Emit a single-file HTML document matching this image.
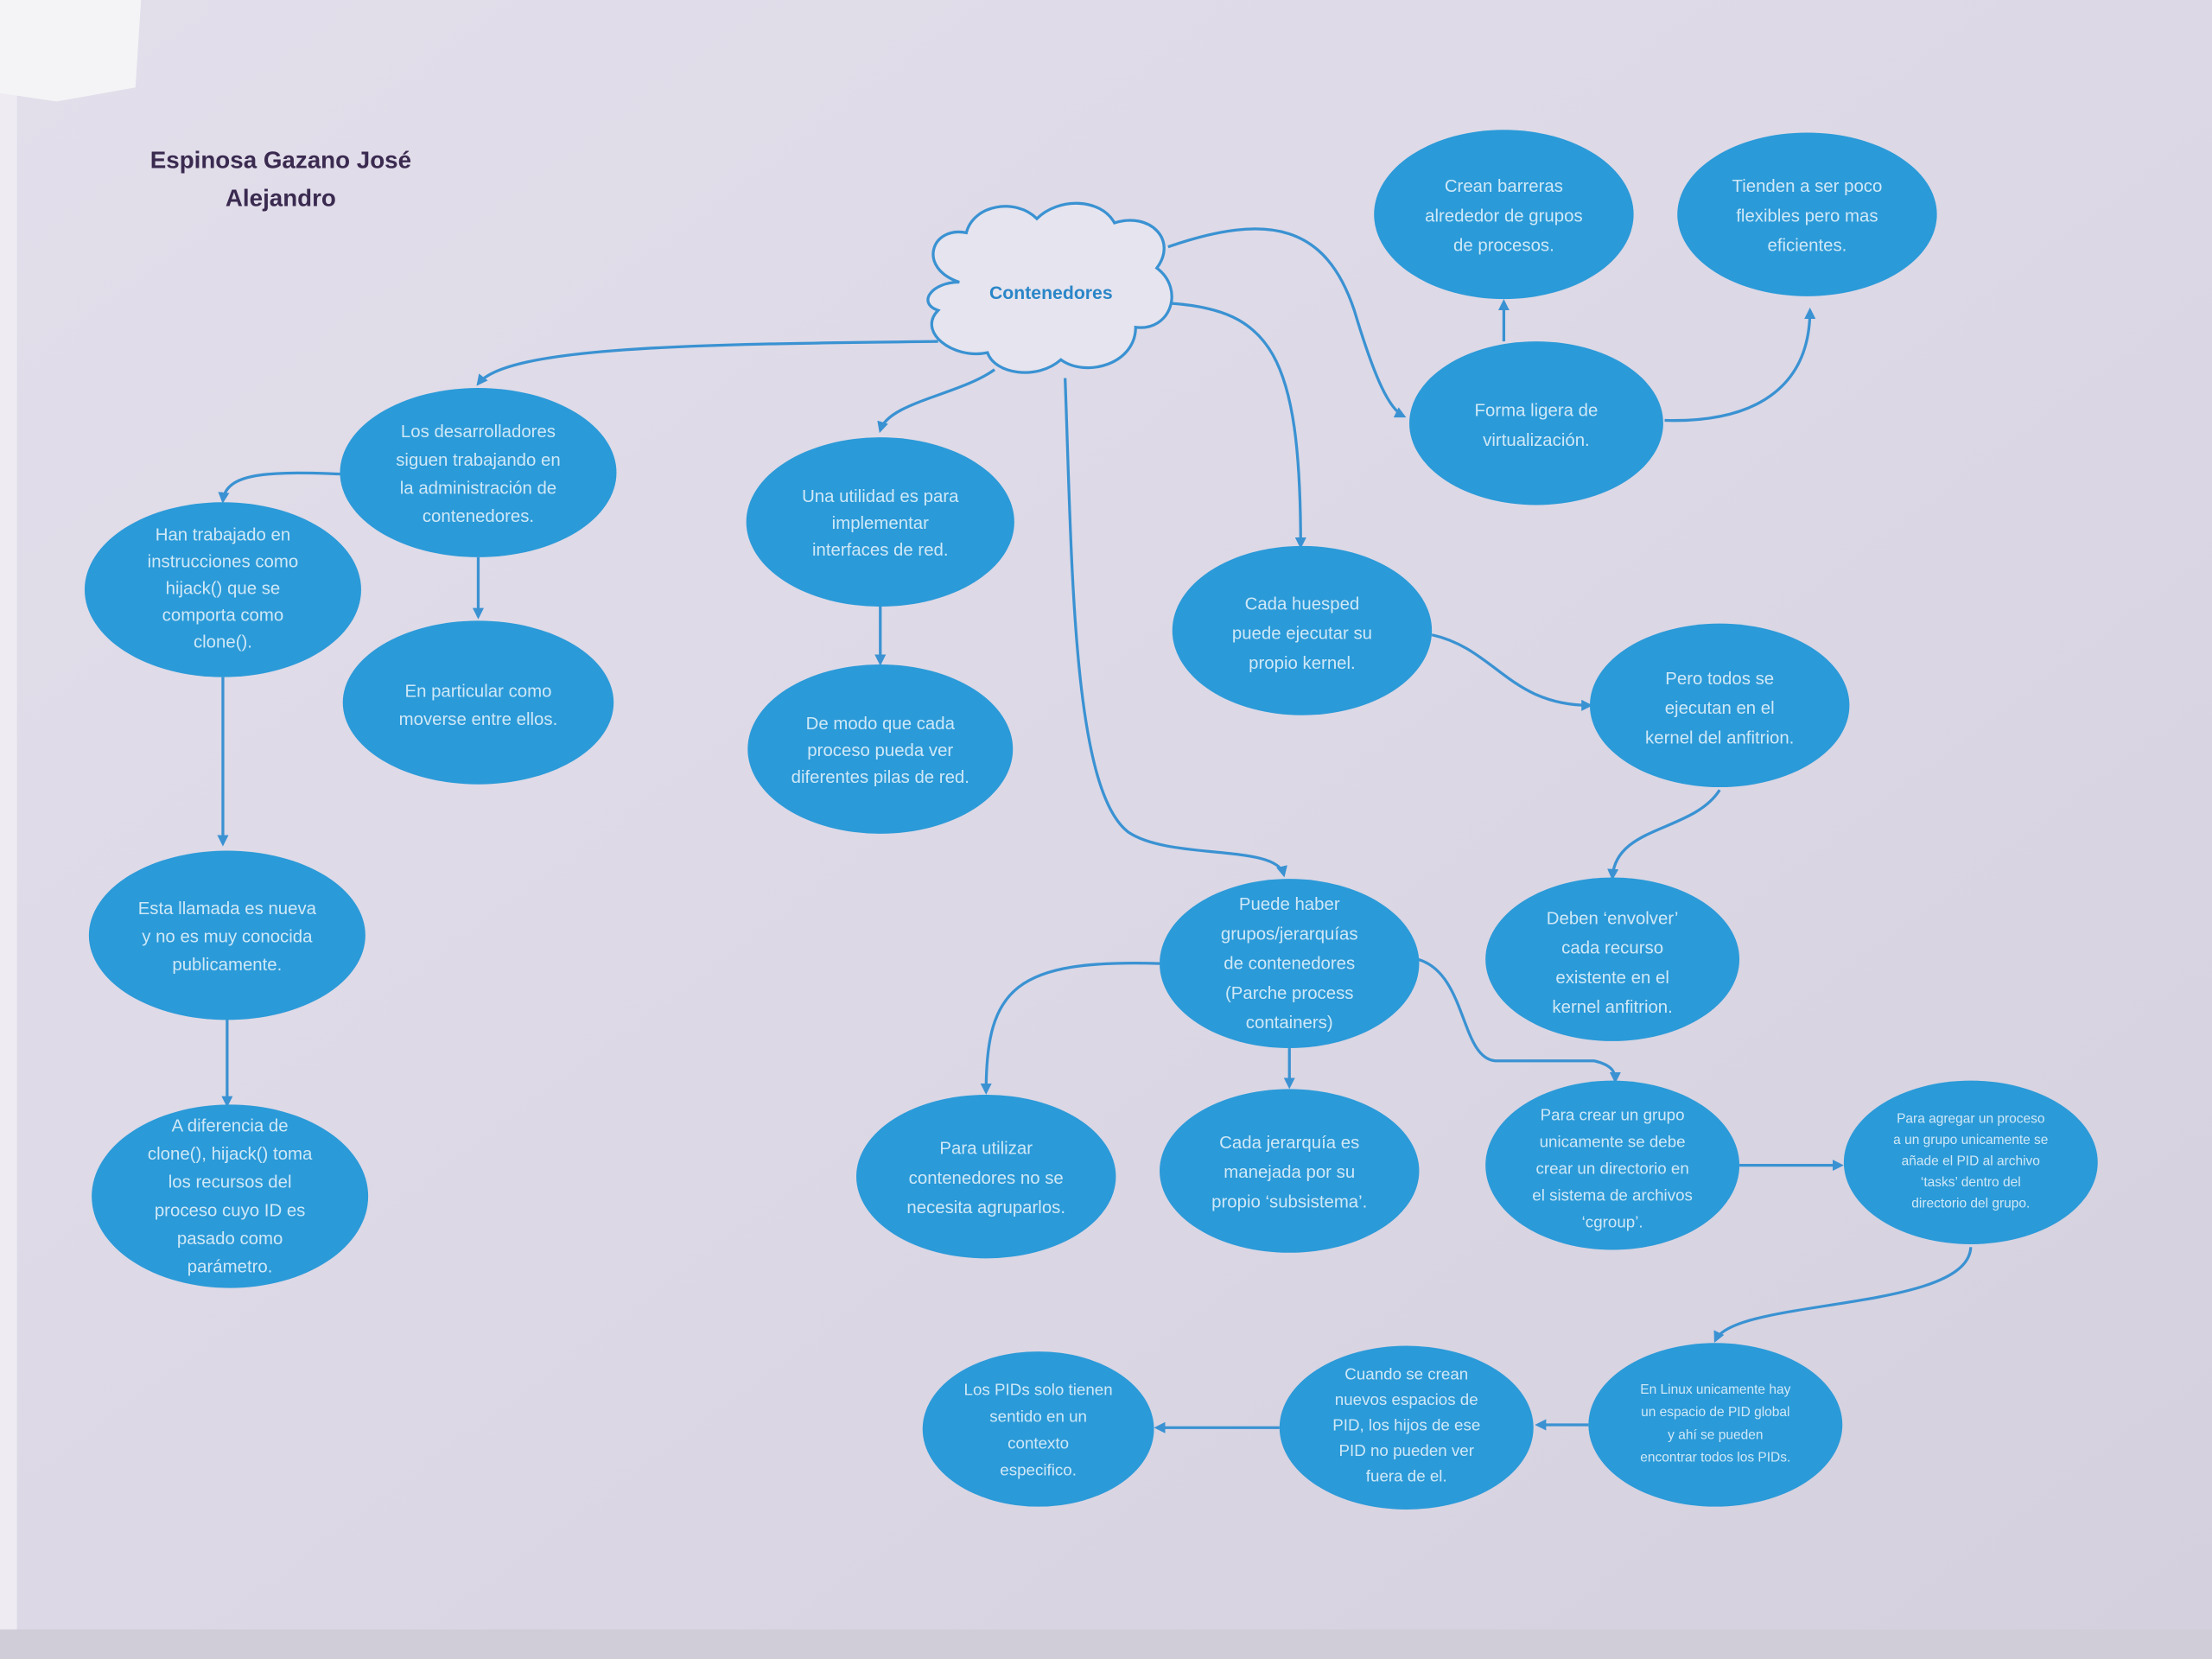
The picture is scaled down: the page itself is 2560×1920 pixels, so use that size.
<!DOCTYPE html>
<html><head><meta charset="utf-8"><style>
html,body{margin:0;padding:0;width:2560px;height:1920px;overflow:hidden;background:#d8d4e2}
svg{display:block}
text{font-family:"Liberation Sans",sans-serif}
.n{fill:#2b9ad8}
.t{fill:#cfe8f7;font-size:12.5px;text-anchor:middle}
.c{fill:none;stroke:#3a92d2;stroke-width:2;marker-end:url(#a)}
</style></head><body>
<svg width="2560" height="1920" viewBox="0 0 1568 1176" preserveAspectRatio="none">
<defs>
<marker id="a" markerWidth="8" markerHeight="8" refX="6" refY="4" orient="auto" markerUnits="userSpaceOnUse"><path d="M0,0 L8,4 L0,8 z" fill="#3a92d2"/></marker>
<linearGradient id="bg" x1="0" y1="0" x2="1" y2="1"><stop offset="0" stop-color="#e2deea"/><stop offset="0.5" stop-color="#dcd8e6"/><stop offset="1" stop-color="#d4d0de"/></linearGradient>
</defs>
<rect width="1568" height="1176" fill="url(#bg)"/>
<rect x="0" y="0" width="12" height="1176" fill="#eeecf2"/>
<rect x="0" y="1155" width="1568" height="21" fill="#d0ccd8"/>
<polygon points="0,0 100,0 96,62 40,72 0,66" fill="#f4f4f6"/>
<text x="199" y="119" font-size="17" fill="#3a2a50" text-anchor="middle" font-weight="600">Espinosa Gazano José</text>
<text x="199" y="146" font-size="17" fill="#3a2a50" text-anchor="middle" font-weight="600">Alejandro</text>

<path class="c" d="M665,242 C500,244 360,245 339,272"/>
<path class="c" d="M705,262 C680,280 630,285 624,305"/>
<path class="c" d="M755,268 C760,400 760,560 800,590 C830,610 905,598 910,620"/>
<path class="c" d="M830,215 C900,220 922,250 922,387"/>
<path class="c" d="M828,175 C900,150 940,160 960,220 C975,270 985,290 995,295"/>
<path class="c" d="M1066,242 L1066,214"/>
<path class="c" d="M1180,298 C1250,300 1283,270 1283,220"/>
<path class="c" d="M241,336 C190,334 160,335 158,355"/>
<path class="c" d="M339,395 L339,437"/>
<path class="c" d="M158,480 L158,598"/>
<path class="c" d="M161,722 L161,783"/>
<path class="c" d="M624,430 L624,470"/>
<path class="c" d="M1015,450 C1060,460 1070,500 1127,500"/>
<path class="c" d="M1219,560 C1200,590 1145,585 1143,622"/>
<path class="c" d="M822,683 C720,680 699,700 699,774"/>
<path class="c" d="M914,743 L914,770"/>
<path class="c" d="M1005,680 C1040,690 1035,750 1060,752 L1130,752 C1143,755 1145,760 1145,766"/>
<path class="c" d="M1233,826 L1305,826"/>
<path class="c" d="M1397,884 C1395,930 1230,920 1216,950"/>
<path class="c" d="M1126,1010 L1090,1010"/>
<path class="c" d="M907,1012 L820,1012"/>

<g fill="#e6e4ee" stroke="#3a92d2" stroke-width="2">
<path d="M680,200 C650,190 660,160 685,165 C690,145 720,140 735,155 C750,140 780,140 790,158 C815,150 835,170 820,190 C840,205 830,235 805,232 C805,258 770,268 752,255 C735,270 705,265 700,250 C675,255 650,235 665,220 C650,215 660,200 680,200 Z"/>
</g>
<text x="745" y="212" font-size="13" fill="#2a86c8" text-anchor="middle" font-weight="bold">Contenedores</text>

<g>
<ellipse class="n" cx="1066" cy="152" rx="92" ry="60"/>
<text class="t" y="136"><tspan x="1066">Crean barreras</tspan><tspan x="1066" dy="21">alrededor de grupos</tspan><tspan x="1066" dy="21">de procesos.</tspan></text>
<ellipse class="n" cx="1281" cy="152" rx="92" ry="58"/>
<text class="t" y="136"><tspan x="1281">Tienden a ser poco</tspan><tspan x="1281" dy="21">flexibles pero mas</tspan><tspan x="1281" dy="21">eficientes.</tspan></text>
<ellipse class="n" cx="1089" cy="300" rx="90" ry="58"/>
<text class="t" y="295"><tspan x="1089">Forma ligera de</tspan><tspan x="1089" dy="21">virtualización.</tspan></text>
<ellipse class="n" cx="339" cy="335" rx="98" ry="60"/>
<text class="t" y="310"><tspan x="339">Los desarrolladores</tspan><tspan x="339" dy="20">siguen trabajando en</tspan><tspan x="339" dy="20">la administración de</tspan><tspan x="339" dy="20">contenedores.</tspan></text>
<ellipse class="n" cx="158" cy="418" rx="98" ry="62"/>
<text class="t" y="383"><tspan x="158">Han trabajado en</tspan><tspan x="158" dy="19">instrucciones como</tspan><tspan x="158" dy="19">hijack() que se</tspan><tspan x="158" dy="19">comporta como</tspan><tspan x="158" dy="19">clone().</tspan></text>
<ellipse class="n" cx="339" cy="498" rx="96" ry="58"/>
<text class="t" y="494"><tspan x="339">En particular como</tspan><tspan x="339" dy="20">moverse entre ellos.</tspan></text>
<ellipse class="n" cx="624" cy="370" rx="95" ry="60"/>
<text class="t" y="356"><tspan x="624">Una utilidad es para</tspan><tspan x="624" dy="19">implementar</tspan><tspan x="624" dy="19">interfaces de red.</tspan></text>
<ellipse class="n" cx="624" cy="531" rx="94" ry="60"/>
<text class="t" y="517"><tspan x="624">De modo que cada</tspan><tspan x="624" dy="19">proceso pueda ver</tspan><tspan x="624" dy="19">diferentes pilas de red.</tspan></text>
<ellipse class="n" cx="923" cy="447" rx="92" ry="60"/>
<text class="t" y="432"><tspan x="923">Cada huesped</tspan><tspan x="923" dy="21">puede ejecutar su</tspan><tspan x="923" dy="21">propio kernel.</tspan></text>
<ellipse class="n" cx="1219" cy="500" rx="92" ry="58"/>
<text class="t" y="485"><tspan x="1219">Pero todos se</tspan><tspan x="1219" dy="21">ejecutan en el</tspan><tspan x="1219" dy="21">kernel del anfitrion.</tspan></text>
<ellipse class="n" cx="1143" cy="680" rx="90" ry="58"/>
<text class="t" y="655"><tspan x="1143">Deben ‘envolver’</tspan><tspan x="1143" dy="21">cada recurso</tspan><tspan x="1143" dy="21">existente en el</tspan><tspan x="1143" dy="21">kernel anfitrion.</tspan></text>
<ellipse class="n" cx="914" cy="683" rx="92" ry="60"/>
<text class="t" y="645"><tspan x="914">Puede haber</tspan><tspan x="914" dy="21">grupos/jerarquías</tspan><tspan x="914" dy="21">de contenedores</tspan><tspan x="914" dy="21">(Parche process</tspan><tspan x="914" dy="21">containers)</tspan></text>
<ellipse class="n" cx="161" cy="663" rx="98" ry="60"/>
<text class="t" y="648"><tspan x="161">Esta llamada es nueva</tspan><tspan x="161" dy="20">y no es muy conocida</tspan><tspan x="161" dy="20">publicamente.</tspan></text>
<ellipse class="n" cx="163" cy="848" rx="98" ry="65"/>
<text class="t" y="802"><tspan x="163">A diferencia de</tspan><tspan x="163" dy="20">clone(), hijack() toma</tspan><tspan x="163" dy="20">los recursos del</tspan><tspan x="163" dy="20">proceso cuyo ID es</tspan><tspan x="163" dy="20">pasado como</tspan><tspan x="163" dy="20">parámetro.</tspan></text>
<ellipse class="n" cx="699" cy="834" rx="92" ry="58"/>
<text class="t" y="818"><tspan x="699">Para utilizar</tspan><tspan x="699" dy="21">contenedores no se</tspan><tspan x="699" dy="21">necesita agruparlos.</tspan></text>
<ellipse class="n" cx="914" cy="830" rx="92" ry="58"/>
<text class="t" y="814"><tspan x="914">Cada jerarquía es</tspan><tspan x="914" dy="21">manejada por su</tspan><tspan x="914" dy="21">propio ‘subsistema’.</tspan></text>
<ellipse class="n" cx="1143" cy="826" rx="90" ry="60"/>
<text class="t" style="font-size:11.5px" y="794"><tspan x="1143">Para crear un grupo</tspan><tspan x="1143" dy="19">unicamente se debe</tspan><tspan x="1143" dy="19">crear un directorio en</tspan><tspan x="1143" dy="19">el sistema de archivos</tspan><tspan x="1143" dy="19">‘cgroup’.</tspan></text>
<ellipse class="n" cx="1397" cy="824" rx="90" ry="58"/>
<text class="t" style="font-size:9.5px" y="796"><tspan x="1397">Para agregar un proceso</tspan><tspan x="1397" dy="15">a un grupo unicamente se</tspan><tspan x="1397" dy="15">añade el PID al archivo</tspan><tspan x="1397" dy="15">‘tasks’ dentro del</tspan><tspan x="1397" dy="15">directorio del grupo.</tspan></text>
<ellipse class="n" cx="1216" cy="1010" rx="90" ry="58"/>
<text class="t" style="font-size:9.5px" y="988"><tspan x="1216">En Linux unicamente hay</tspan><tspan x="1216" dy="16">un espacio de PID global</tspan><tspan x="1216" dy="16">y ahí se pueden</tspan><tspan x="1216" dy="16">encontrar todos los PIDs.</tspan></text>
<ellipse class="n" cx="997" cy="1012" rx="90" ry="58"/>
<text class="t" style="font-size:11.5px" y="978"><tspan x="997">Cuando se crean</tspan><tspan x="997" dy="18">nuevos espacios de</tspan><tspan x="997" dy="18">PID, los hijos de ese</tspan><tspan x="997" dy="18">PID no pueden ver</tspan><tspan x="997" dy="18">fuera de el.</tspan></text>
<ellipse class="n" cx="736" cy="1013" rx="82" ry="55"/>
<text class="t" style="font-size:11.5px" y="989"><tspan x="736">Los PIDs solo tienen</tspan><tspan x="736" dy="19">sentido en un</tspan><tspan x="736" dy="19">contexto</tspan><tspan x="736" dy="19">especifico.</tspan></text>
</g>
</svg>
</body></html>
